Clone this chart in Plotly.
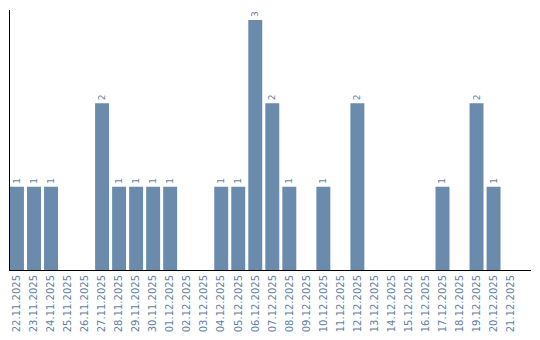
import plotly.graph_objects as go

dates = ["22.11.2025", "23.11.2025", "24.11.2025", "25.11.2025", "26.11.2025",
         "27.11.2025", "28.11.2025", "29.11.2025", "30.11.2025", "01.12.2025",
         "02.12.2025", "03.12.2025", "04.12.2025", "05.12.2025", "06.12.2025",
         "07.12.2025", "08.12.2025", "09.12.2025", "10.12.2025", "11.12.2025",
         "12.12.2025", "13.12.2025", "14.12.2025", "15.12.2025", "16.12.2025",
         "17.12.2025", "18.12.2025", "19.12.2025", "20.12.2025", "21.12.2025"]
counts = [1, 1, 1, 0, 0, 2, 1, 1, 1, 1, 0, 0, 1, 1, 3, 2, 1, 0, 1, 0,
          2, 0, 0, 0, 0, 1, 0, 2, 1, 0]

bar_color = "#6a8bab"
label_color = "#5f7fa3"

fig = go.Figure(go.Bar(
    x=dates, y=counts,
    marker=dict(color=bar_color, line=dict(width=0)),
    width=0.82,
    text=[str(v) if v > 0 else "" for v in counts],
    textposition="outside",
    textangle=-90,
    textfont=dict(family="DejaVu Sans", size=9, color=label_color),
    cliponaxis=False,
))

fig.update_layout(
    width=540, height=340,
    margin=dict(l=10, r=9, t=10, b=70),
    paper_bgcolor="white", plot_bgcolor="white",
    showlegend=False,
    bargap=0.18,
    uniformtext=dict(minsize=9, mode="show"),
    xaxis=dict(
        type="category",
        range=[-0.41, 30.2],
        showline=True, linecolor="black", linewidth=1,
        showgrid=False, ticks="",
        tickangle=-90,
        tickfont=dict(family="DejaVu Sans", size=10, color=label_color),
    ),
    yaxis=dict(
        range=[0, 3.12],
        showline=True, linecolor="black", linewidth=1,
        showgrid=False, zeroline=False,
        showticklabels=False, ticks="",
    ),
)

fig.write_html("out.html")
